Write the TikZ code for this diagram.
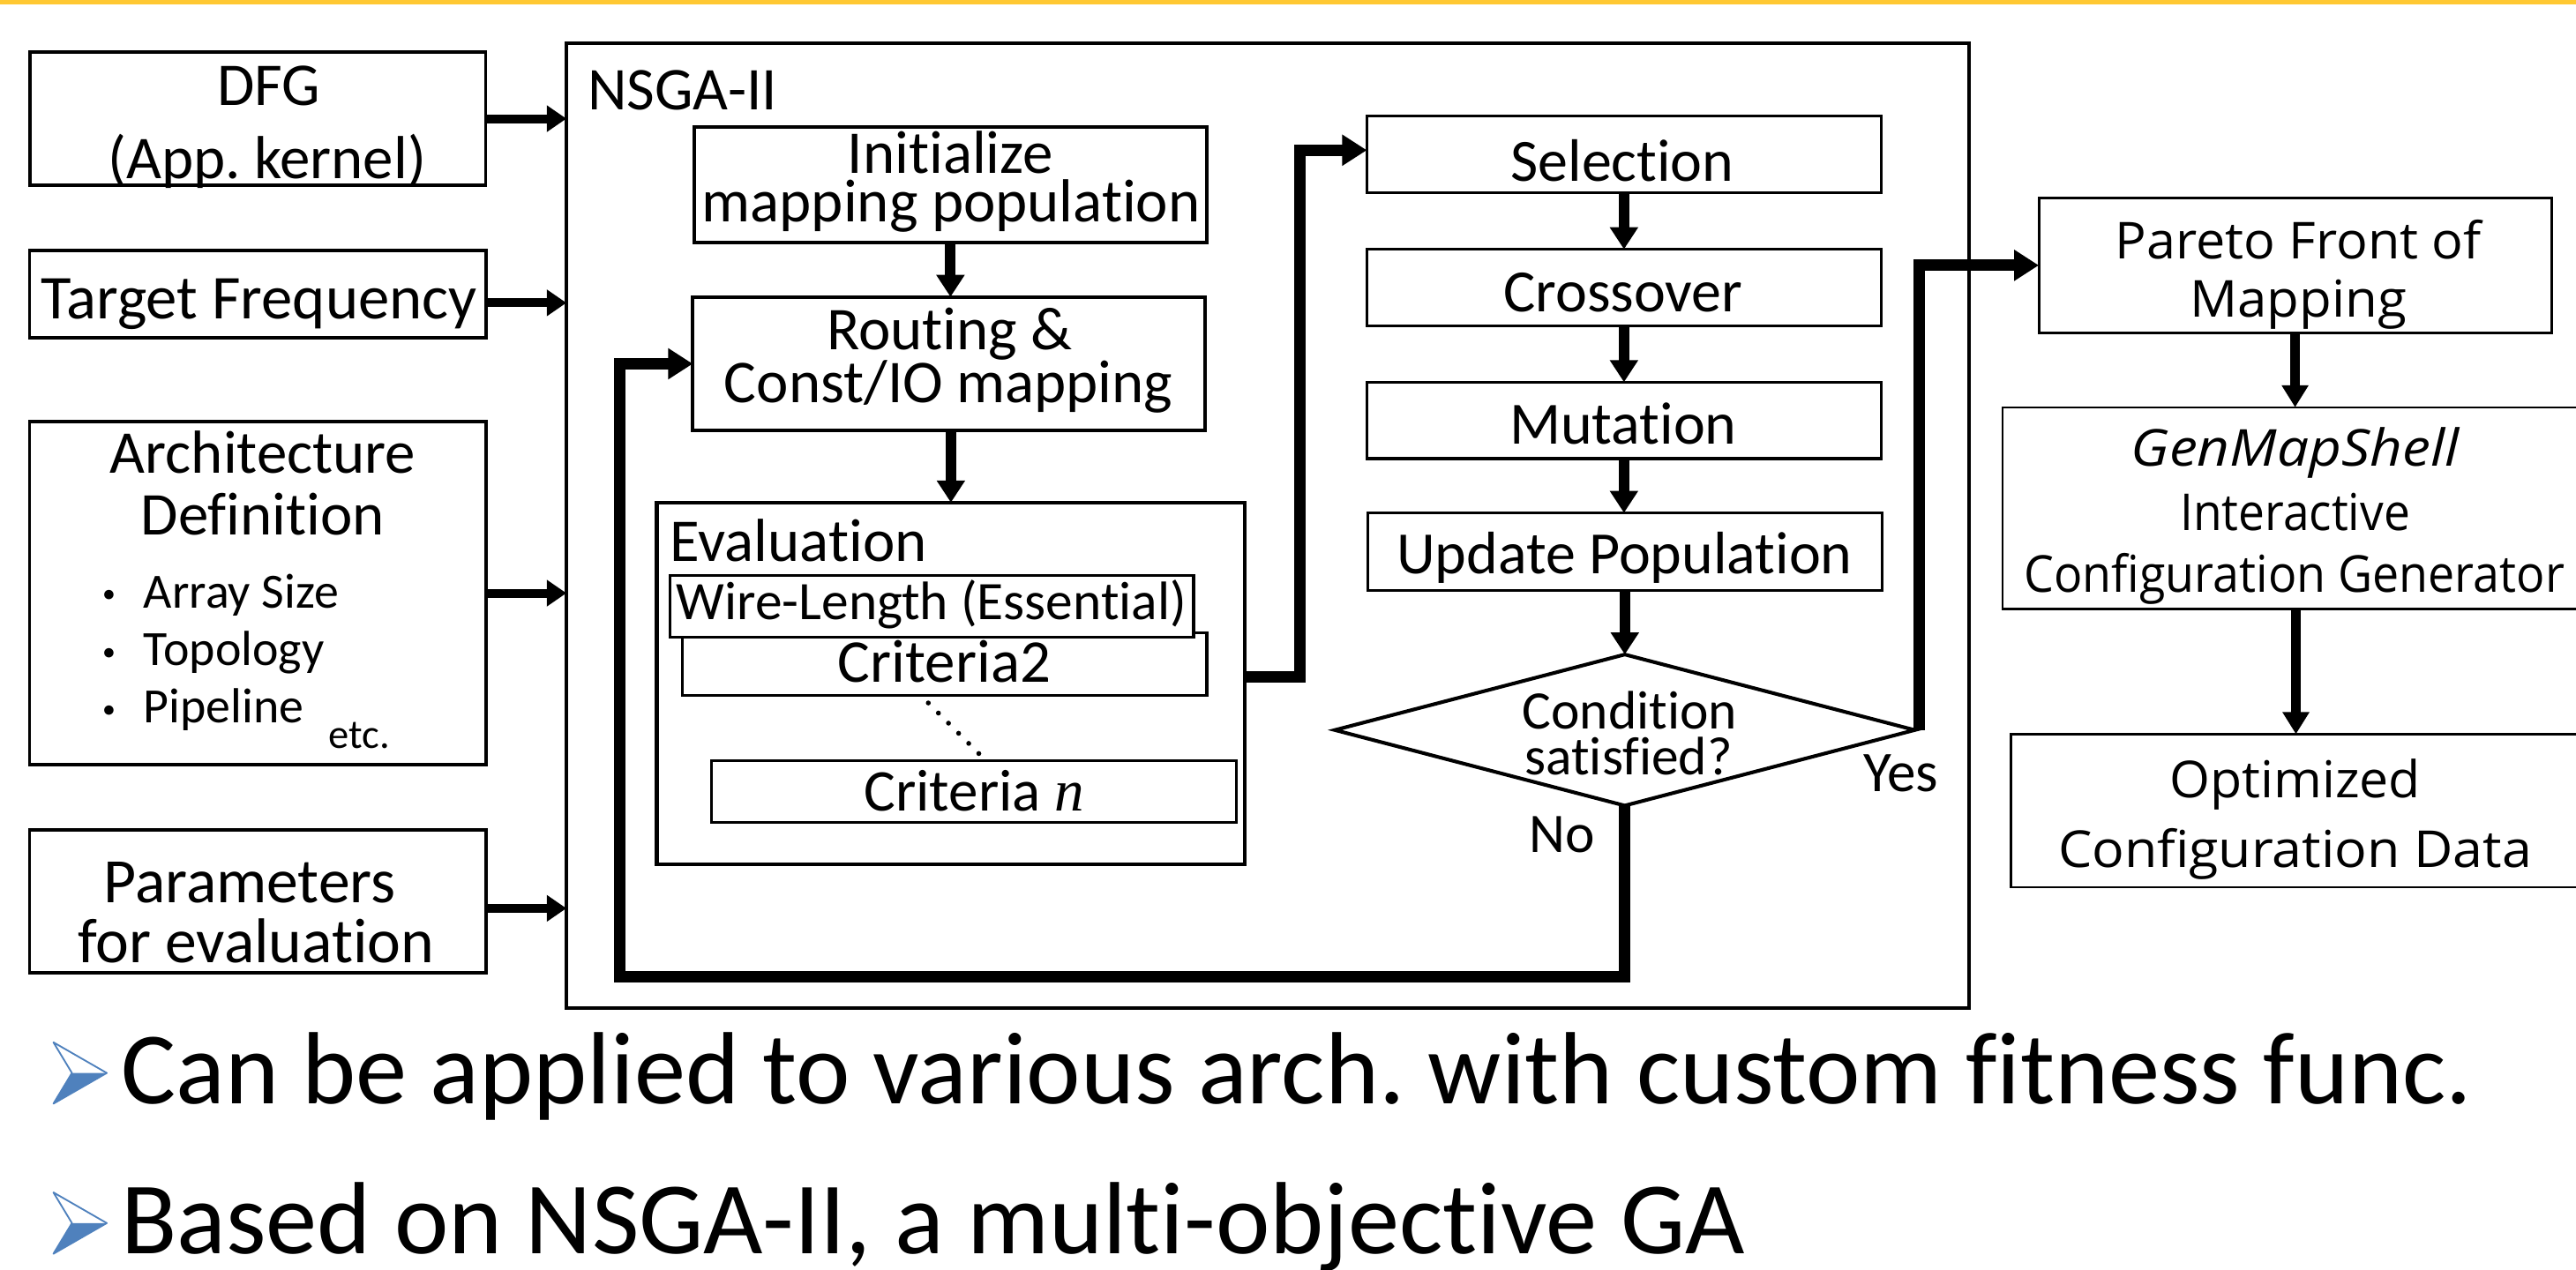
\documentclass[tikz,border=0pt]{standalone}
\usepackage{fontspec}
\usepackage{graphicx}
\setmainfont{Carlito}[Ligatures=NoCommon]
\newfontfamily\rfont{Open Sans}[Ligatures=NoCommon]
\newfontfamily\tnr{Liberation Serif}
\usetikzlibrary{arrows.meta,shapes.geometric,calc}
\definecolor{topyellow}{RGB}{255,200,50}
\definecolor{bblue}{RGB}{79,129,189}
\newcommand{\myfs}[1]{\fontsize{#1}{#1}\selectfont}
\frenchspacing
\begin{document}
\begin{tikzpicture}[x=1pt,y=-1pt,
  box/.style={draw, line width=2pt, inner sep=0pt, outer sep=0pt, fill=white},
  txt/.style={anchor=base, inner sep=0pt, outer sep=0pt, font=\myfs{#1}},
  txt/.default=37,
  ltxt/.style={txt=#1, anchor=base west},
  ltxt/.default=37,
  inarr/.style={line width=5.4pt, -{Triangle[length=12pt,width=15.5pt]}},
  varr/.style={line width=6.5pt, -{Triangle[length=13.4pt,width=16.4pt]}},
  bigarr/.style={line width=7pt, -{Triangle[length=15pt,width=18pt]}},
  rarr/.style={line width=6.2pt, -{Triangle[length=13.4pt,width=15.5pt]}},
  dotline/.style={line width=3pt, dash pattern=on 0pt off 8.7pt, line cap=round}
]
\useasboundingbox (0,0) rectangle (1568,773);
\clip (0,0) rectangle (1568,773);
\path[fill=topyellow] (0,0) rectangle (1568,2.8);

% ---------- outer NSGA-II box ----------
\node[box, line width=2.2pt, minimum width=853.6pt, minimum height=587.5pt] (nsga) at (771.6,319.95) {};
\node[ltxt] (nsgat) at (357.8,66.6) {NSGA-II};

% ---------- input boxes ----------
\node[box, minimum width=277.4pt, minimum height=81.1pt] (dfg) at (156.9,72.25) {};
\node[box, minimum width=278pt, minimum height=53pt] (tf) at (157,179) {};
\node[box, minimum width=278pt, minimum height=208.7pt] (arch) at (157,361.15) {};
\node[box, minimum width=278pt, minimum height=86.9pt] (par) at (157,548.65) {};

\node[txt] (dfg1) at (163.5,64.4) {DFG};
\node[txt] (dfg2) at (162.5,108.8) {(App. kernel)};
\node[txt=38] (tf1) at (157.6,194.2) {Target Frequency};
\node[txt] (ar1) at (160,288) {Architecture};
\node[txt] (ar2) at (160,325.8) {Definition};
\node[txt=40] (d1) at (66.5,373.5) {·};
\node[txt=40] (d2) at (66.5,408.9) {·};
\node[txt=40] (d3) at (66.5,443.8) {·};
\node[ltxt=30] (it1) at (87.5,370) {Array Size};
\node[ltxt=30] (it2) at (87.5,405.4) {Topology};
\node[ltxt=30] (it3) at (87.5,440.3) {Pipeline};
\node[ltxt=25] (it4) at (200.2,455.5) {etc.};
\node[txt=38.5] (pa1) at (152,549.5) {Parameters};
\node[txt=38.5] (pa2) at (155.8,586.2) {for evaluation};

% ---------- left column of NSGA ----------
\node[box, line width=2.2pt, minimum width=312.3pt, minimum height=70.4pt] (init) at (578.55,112.5) {};
\node[box, line width=2.2pt, minimum width=311.8pt, minimum height=81.4pt] (rout) at (577.6,221.5) {};
\node[box, line width=2.2pt, minimum width=358pt, minimum height=220pt] (eval) at (578.8,416) {};
\node[box, line width=1.8pt, minimum width=319.1pt, minimum height=37.9pt] (crit2) at (575.05,404.35) {};
\node[box, line width=1.8pt, minimum width=318.9pt, minimum height=37.6pt] (wire) at (567.15,369.1) {};
\node[box, line width=1.8pt, minimum width=319.8pt, minimum height=37.8pt] (critn) at (592.8,482) {};

\node[txt] (in1) at (578.5,105.6) {Initialize};
\node[txt] (in2) at (579,135.2) {mapping population};
\node[txt] (ro1) at (578,213) {Routing \&};
\node[txt] (ro2) at (577.4,245.2) {Const/IO mapping};
\node[ltxt] (evt) at (408,342) {Evaluation};
\node[txt=33] (wt) at (567,377.3) {Wire-Length (Essential)};
\node[txt] (c2t) at (574.8,415.3) {Criteria2};
\node[txt=36] (cnt) at (592.8,494) {Criteria {\tnr\itshape n}};
\draw[dotline] ($(crit2.south)+(-10,4.7)$) -- ($(critn.north)+(3.2,-4.1)$);

% ---------- GA loop column ----------
\node[box, line width=1.8pt, minimum width=313pt, minimum height=46.7pt] (sel) at (988.5,94.05) {};
\node[box, line width=1.8pt, minimum width=313pt, minimum height=46.7pt] (cross) at (988.5,175.15) {};
\node[box, line width=1.8pt, minimum width=313pt, minimum height=46.5pt] (mut) at (988.5,255.95) {};
\node[box, line width=1.8pt, minimum width=313pt, minimum height=47.2pt] (upd) at (989,335.9) {};
\node[draw, diamond, line width=2.2pt, minimum width=353pt, minimum height=92pt, inner sep=0pt, outer sep=0pt, fill=white] (cond) at (989,444.5) {};

\node[txt=36.5] (selt) at (987.5,110.6) {Selection};
\node[txt=36.5] (crt) at (988,189.6) {Crossover};
\node[txt=36.5] (mutt) at (988,270.3) {Mutation};
\node[txt=36.5] (updt) at (988.8,349.5) {Update Population};
\node[txt=33] (co1) at (992,444) {Condition};
\node[txt=33] (co2) at (991.3,471.6) {satisfied?};
\node[txt=35] (yes) at (1157,482) {Yes};
\node[txt=34] (no) at (950.8,519) {No};

% ---------- right column ----------
\node[box, line width=1.6pt, minimum width=312pt, minimum height=82.1pt] (pareto) at (1397,161.55) {};
\node[box, line width=1.4pt, minimum width=357pt, minimum height=122.8pt] (gms) at (1397.5,309.4) {};
\node[box, line width=1.4pt, minimum width=347pt, minimum height=93.2pt] (opt) at (1397.5,493.6) {};

\node[txt=31] (pf1) at (1399,157.5) {\rfont\resizebox{223pt}{\height}{Pareto Front of}};
\node[txt=31] (pf2) at (1399,193.3) {\rfont\resizebox{132pt}{\height}{Mapping}};
\node[txt=31] (gm1) at (1397,283.6) {\rfont\itshape\resizebox{199.7pt}{\height}{GenMapShell}};
\node[txt=31] (gm2) at (1397,322.8) {\rfont\resizebox{140pt}{\height}{Interactive}};
\node[txt=31] (gm3) at (1396.5,360.6) {\rfont\resizebox{329pt}{\height}{Configuration Generator}};
\node[txt=31] (op1) at (1397,485.8) {\rfont\resizebox{152.8pt}{\height}{Optimized}};
\node[txt=31] (op2) at (1397,527.9) {\rfont\resizebox{288.4pt}{\height}{Configuration Data}};

% ---------- connectors ----------
\draw[inarr] (dfg.east) -- (dfg.east -| nsga.west);
\coordinate (tfo) at ([yshift=-5.4pt]tf.east);
\draw[inarr] (tfo) -- (tfo -| nsga.west);
\draw[inarr] (arch.east) -- (arch.east -| nsga.west);
\coordinate (paro) at ([yshift=-4.4pt]par.east);
\draw[inarr] (paro) -- (paro -| nsga.west);

\draw[varr] (init.south) -- (init.south |- rout.north);
\draw[varr] (eval.north |- rout.south) -- (eval.north);
\draw[varr] (sel.south) -- (cross.north);
\draw[varr] (cross.south) -- (mut.north);
\draw[varr] (mut.south) -- (mut.south |- upd.north);
\draw[varr] (upd.south) -- (cond.north);

\coordinate (evc) at (791.2,412);
\draw[bigarr] (eval.east |- evc) -- (evc) |- ([yshift=2.6pt]sel.west);
\coordinate (loopc) at (377,594.7);
\draw[bigarr] (cond.south) |- (loopc) |- (rout.west);
\draw[bigarr] ([xshift=2.5pt]cond.east) |- (pareto.west);

\draw[rarr] (pareto.south) -- (pareto.south |- gms.north);
\draw[rarr] (gms.south) -- (gms.south |- opt.north);

% ---------- bullets ----------
\foreach \by in {672, 763.4}{
  \fill[bblue] (43.8,\by-18.7) -- (65,\by-18.7) -- (32.5,\by) -- cycle;
  \draw[bblue, line width=1pt, line join=round] (43.8,\by-18.7) -- (32.5,\by-37.4) -- (65,\by-18.7) -- (32.5,\by) -- cycle;
}
\node[ltxt=62.5] (l1) at (73.7,672) {Can be applied to various arch. with custom fitness func.};
\node[ltxt=62.5] (l2) at (73.7,763.4) {Based on NSGA-II, a multi-objective GA};
\end{tikzpicture}
\end{document}
